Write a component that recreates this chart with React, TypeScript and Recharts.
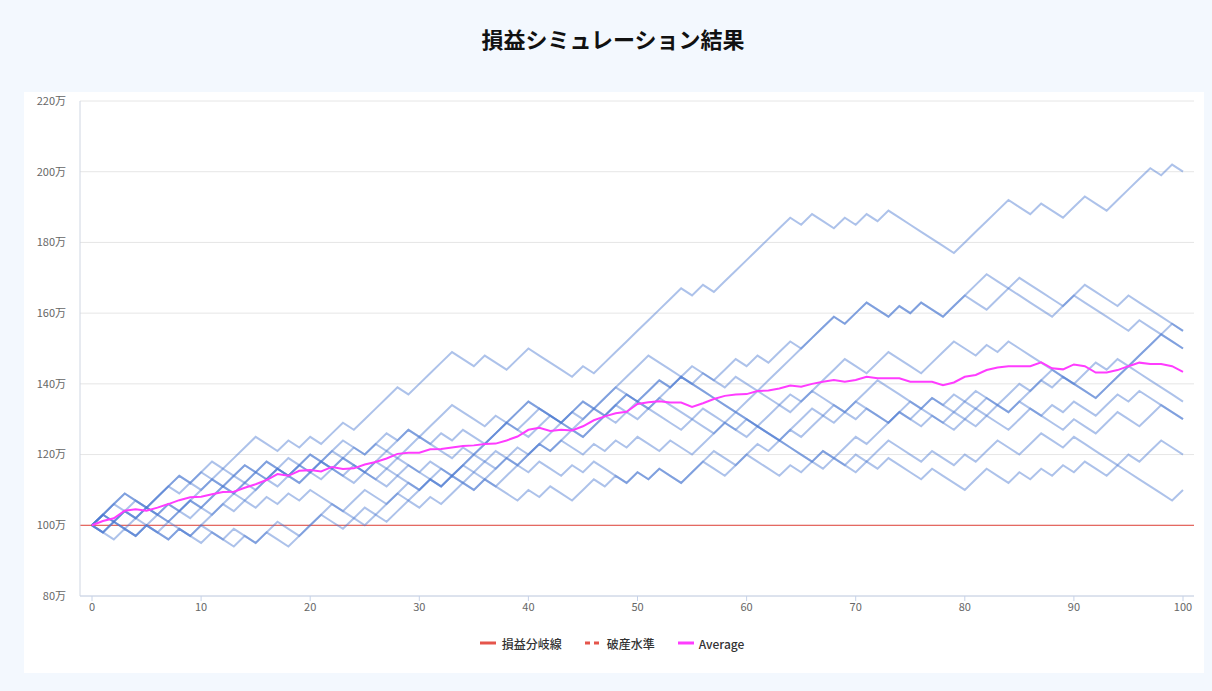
import React from 'react';
import { LineChart, Line, XAxis, YAxis, CartesianGrid, ReferenceLine, Legend } from 'recharts';

// ---- data ----
const TITLE = '損益シミュレーション結果';
const xTicks = [0, 10, 20, 30, 40, 50, 60, 70, 80, 90, 100];
const yTicks = [80, 100, 120, 140, 160, 180, 200, 220];
const breakEven = 100;

const simA = [
  100, 103, 106, 109, 107, 105, 108, 111, 114, 112,
  115, 118, 116, 119, 122, 125, 123, 121, 124, 122,
  125, 123, 126, 129, 127, 130, 133, 136, 139, 137,
  140, 143, 146, 149, 147, 145, 148, 146, 144, 147,
  150, 148, 146, 144, 142, 145, 143, 146, 149, 152,
  155, 158, 161, 164, 167, 165, 168, 166, 169, 172,
  175, 178, 181, 184, 187, 185, 188, 186, 184, 187,
  185, 188, 186, 189, 187, 185, 183, 181, 179, 177,
  180, 183, 186, 189, 192, 190, 188, 191, 189, 187,
  190, 193, 191, 189, 192, 195, 198, 201, 199, 202,
  200,
];
const simB = [
  100, 98, 101, 104, 102, 105, 103, 101, 104, 107,
  105, 108, 111, 109, 112, 115, 113, 116, 114, 117,
  120, 118, 121, 124, 122, 120, 123, 121, 124, 127,
  125, 123, 126, 124, 127, 125, 123, 126, 129, 127,
  130, 133, 131, 129, 132, 135, 133, 136, 139, 137,
  135, 138, 141, 139, 142, 140, 143, 141, 144, 147,
  145, 148, 146, 149, 152, 150, 153, 156, 159, 157,
  160, 163, 161, 159, 162, 160, 163, 161, 159, 162,
  165, 168, 171, 169, 167, 165, 163, 161, 159, 162,
  165, 168, 166, 164, 162, 165, 163, 161, 159, 157,
  155,
];
const simC = [
  100, 103, 101, 99, 102, 105, 103, 106, 104, 102,
  105, 108, 111, 109, 112, 110, 113, 116, 114, 117,
  115, 113, 116, 114, 112, 115, 113, 111, 114, 112,
  110, 113, 111, 114, 117, 120, 123, 126, 129, 132,
  135, 133, 131, 129, 127, 125, 128, 131, 134, 137,
  135, 133, 136, 134, 132, 130, 133, 131, 129, 127,
  125, 128, 126, 124, 127, 130, 133, 131, 129, 132,
  135, 133, 131, 129, 132, 130, 133, 136, 134, 137,
  135, 133, 136, 134, 132, 135, 138, 141, 144, 142,
  140, 138, 136, 139, 142, 145, 148, 151, 154, 157,
  155,
];
const simD = [
  100, 98, 96, 99, 97, 100, 98, 96, 99, 97,
  100, 98, 96, 99, 97, 95, 98, 96, 94, 97,
  100, 103, 106, 104, 107, 110, 108, 106, 109, 112,
  110, 113, 111, 114, 117, 120, 123, 126, 129, 132,
  135, 133, 131, 129, 127, 130, 133, 131, 134, 132,
  130, 133, 131, 129, 127, 130, 128, 126, 129, 132,
  135, 138, 141, 144, 147, 150, 153, 156, 159, 157,
  160, 163, 161, 159, 162, 160, 163, 161, 159, 162,
  165, 163, 161, 164, 167, 170, 168, 166, 164, 162,
  165, 163, 161, 159, 157, 155, 158, 156, 154, 152,
  150,
];
const simE = [
  100, 98, 101, 99, 97, 100, 98, 101, 99, 97,
  100, 103, 106, 104, 107, 105, 108, 106, 109, 107,
  110, 108, 106, 104, 102, 100, 103, 101, 104, 107,
  105, 108, 106, 109, 112, 110, 113, 116, 119, 117,
  120, 123, 126, 129, 132, 130, 133, 136, 139, 142,
  145, 148, 146, 144, 142, 145, 143, 141, 139, 142,
  140, 138, 136, 134, 137, 135, 138, 141, 144, 147,
  145, 143, 146, 149, 147, 145, 143, 146, 149, 152,
  150, 148, 151, 149, 152, 150, 148, 146, 144, 142,
  140, 138, 136, 139, 142, 145, 148, 151, 154, 152,
  150,
];
const simF = [
  100, 103, 106, 104, 107, 105, 108, 111, 109, 112,
  110, 113, 111, 114, 117, 115, 113, 116, 114, 112,
  115, 118, 121, 119, 122, 120, 123, 126, 124, 127,
  125, 128, 131, 134, 132, 130, 128, 131, 129, 127,
  125, 128, 131, 129, 132, 135, 133, 131, 134, 137,
  135, 138, 141, 139, 142, 140, 138, 136, 134, 132,
  130, 128, 126, 124, 122, 120, 118, 116, 119, 122,
  125, 123, 126, 129, 132, 130, 128, 131, 129, 127,
  130, 133, 131, 134, 137, 140, 138, 141, 139, 142,
  140, 143, 146, 144, 147, 145, 143, 141, 139, 137,
  135,
];
const simG = [
  100, 103, 101, 104, 102, 100, 103, 101, 104, 107,
  105, 103, 106, 109, 107, 110, 113, 111, 114, 112,
  115, 118, 116, 114, 117, 115, 113, 116, 119, 117,
  115, 118, 116, 114, 117, 115, 118, 116, 119, 122,
  120, 123, 121, 124, 122, 120, 123, 121, 124, 122,
  125, 123, 121, 124, 122, 120, 123, 126, 129, 127,
  130, 128, 131, 134, 132, 135, 138, 136, 134, 132,
  135, 138, 141, 139, 137, 135, 133, 131, 129, 132,
  130, 128, 131, 129, 127, 130, 133, 131, 134, 132,
  135, 133, 131, 134, 137, 135, 138, 136, 134, 132,
  130,
];
const simH = [
  100, 98, 101, 104, 102, 105, 103, 106, 104, 107,
  110, 113, 111, 114, 117, 115, 118, 116, 119, 117,
  120, 118, 116, 119, 117, 115, 118, 116, 114, 117,
  115, 113, 116, 114, 112, 115, 113, 111, 114, 117,
  115, 118, 116, 114, 117, 115, 118, 116, 114, 112,
  115, 113, 116, 114, 112, 115, 118, 121, 119, 117,
  120, 123, 121, 124, 127, 125, 128, 131, 134, 132,
  130, 133, 131, 129, 132, 135, 133, 136, 134, 132,
  135, 138, 136, 134, 132, 135, 133, 131, 129, 127,
  130, 128, 126, 129, 132, 130, 128, 131, 134, 132,
  130,
];
const simI = [
  100, 103, 101, 99, 97, 100, 98, 96, 99, 97,
  95, 98, 96, 94, 97, 95, 98, 101, 99, 97,
  100, 103, 101, 99, 102, 105, 103, 106, 109, 107,
  110, 113, 111, 114, 112, 110, 113, 111, 109, 107,
  110, 108, 111, 109, 107, 110, 113, 111, 114, 112,
  115, 113, 116, 114, 112, 115, 118, 116, 114, 117,
  120, 118, 116, 114, 117, 115, 118, 121, 119, 117,
  120, 118, 121, 124, 122, 120, 118, 121, 119, 117,
  120, 118, 121, 124, 122, 120, 123, 126, 124, 122,
  125, 123, 121, 119, 117, 120, 118, 121, 124, 122,
  120,
];
const simJ = [
  100, 103, 106, 109, 107, 105, 108, 111, 114, 112,
  115, 113, 116, 114, 112, 115, 118, 116, 114, 117,
  115, 118, 116, 119, 117, 115, 118, 121, 119, 122,
  125, 123, 121, 119, 122, 120, 118, 121, 119, 117,
  120, 123, 121, 124, 127, 125, 128, 131, 129, 132,
  135, 133, 136, 139, 142, 140, 138, 136, 134, 132,
  130, 128, 126, 124, 122, 120, 118, 121, 119, 117,
  115, 118, 116, 119, 117, 115, 113, 116, 114, 112,
  110, 113, 116, 114, 112, 115, 113, 116, 114, 117,
  115, 118, 116, 114, 117, 115, 113, 111, 109, 107,
  110,
];
const average = [
  100, 101.2, 102, 104.1, 104.5, 104.1, 105, 106, 107.1, 107.9,
  108.1, 108.8, 109.4, 109.5, 110.6, 111.6, 112.8, 114.5, 114, 115.4,
  115.6, 115.2, 116.5, 115.9, 116.1, 117.2, 117.9, 118.9, 120.2, 120.5,
  120.5, 121.5, 121.6, 122, 122.4, 122.6, 123, 123.1, 124, 125.1,
  127, 127.6, 126.7, 127, 126.8, 128, 129.7, 130.8, 131.7, 132.1,
  134.3, 134.8, 135.1, 134.7, 134.7, 133.5, 134.5, 135.7, 136.6, 137,
  137.1, 138, 138.1, 138.7, 139.5, 139.2, 140, 140.6, 141.1, 140.6,
  141.1, 142, 141.6, 141.6, 141.6, 140.6, 140.6, 140.6, 139.6, 140.4,
  142, 142.5, 143.9, 144.6, 145, 145, 145, 146.1, 144.4, 144.1,
  145.5, 145, 143.2, 143.2, 143.9, 145, 146, 145.6, 145.6, 145,
  143.4,
];

const simulations = [simA, simB, simC, simD, simE, simF, simG, simH, simI, simJ];
const simKeys = ['s1', 's2', 's3', 's4', 's5', 's6', 's7', 's8', 's9', 's10'];

const data = average.map((avg, i) => {
  const row: Record<string, number> = { x: i, avg };
  simulations.forEach((s, k) => {
    row[simKeys[k]] = s[i];
  });
  return row;
});

const FONT = '"Noto Sans CJK JP", "Noto Sans", sans-serif';

const LegendContent = () => (
  <div
    style={{
      height: 20,
      display: 'flex',
      justifyContent: 'center',
      alignItems: 'center',
      fontFamily: FONT,
      fontSize: 12,
      fontWeight: 500,
      color: '#333',
      paddingLeft: 6,
    }}
  >
    <span style={{ display: 'flex', alignItems: 'center', marginRight: 23 }}>
      <svg width={16} height={6} style={{ marginRight: 6 }}>
        <line x1={0} y1={3} x2={16} y2={3} stroke="#e5554b" strokeWidth={3} />
      </svg>
      損益分岐線
    </span>
    <span style={{ display: 'flex', alignItems: 'center', marginRight: 23 }}>
      <svg width={16} height={6} style={{ marginRight: 6 }}>
        <line x1={0} y1={3} x2={16} y2={3} stroke="#e5554b" strokeWidth={3} strokeDasharray="5 4" />
      </svg>
      破産水準
    </span>
    <span style={{ display: 'flex', alignItems: 'center' }}>
      <svg width={16} height={6} style={{ marginRight: 5 }}>
        <line x1={0} y1={3} x2={16} y2={3} stroke="#ff3cff" strokeWidth={3} />
      </svg>
      Average
    </span>
  </div>
);

export default function App() {
  return (
    <div
      style={{
        position: 'fixed',
        left: 0,
        top: 0,
        width: 1212,
        height: 691,
        background: '#f3f8fe',
        fontFamily: FONT,
      }}
    >
      <div
        style={{
          position: 'absolute',
          top: 24,
          left: 0,
          width: 1226,
          textAlign: 'center',
          fontSize: 22,
          fontWeight: 700,
          color: '#111',
          lineHeight: '28px',
        }}
      >
        {TITLE}
      </div>
      <div
        style={{
          position: 'absolute',
          left: 24,
          top: 92,
          width: 1180,
          height: 581,
          background: '#ffffff',
        }}
      >
        <LineChart
          width={1180}
          height={581}
          data={data}
          margin={{ top: 9, right: 10, left: 0, bottom: 20 }}
        >
          <CartesianGrid vertical={false} stroke="#e6e6e6" />
          <XAxis
            dataKey="x"
            type="number"
            domain={[0, 100]}
            ticks={xTicks}
            padding={{ left: 12, right: 11 }}
            height={37}
            tickSize={5}
            tick={{ fontSize: 11, fill: '#666', fontFamily: FONT }}
            tickLine={{ stroke: '#c6d2e8' }}
            axisLine={{ stroke: '#c6d2e8' }}
          />
          <YAxis
            domain={[80, 220]}
            ticks={yTicks}
            width={56}
            tickLine={false}
            tickMargin={8}
            axisLine={{ stroke: '#cfd6e2' }}
            tick={{ fontSize: 11, fill: '#666', fontFamily: FONT }}
            tickFormatter={(v: number) => `${v}万`}
          />
          <YAxis
            yAxisId="right"
            orientation="right"
            domain={[80, 220]}
            width={0}
            tick={false}
            tickLine={false}
            axisLine={{ stroke: '#cccccc' }}
          />
          <ReferenceLine y={breakEven} stroke="#e3463c" strokeWidth={1} />
          {simKeys.map((k) => (
            <Line
              key={k}
              type="linear"
              dataKey={k}
              stroke="#4a78d0"
              strokeOpacity={0.45}
              strokeWidth={2}
              dot={false}
              activeDot={false}
              legendType="none"
              isAnimationActive={false}
            />
          ))}
          <Line
            type="linear"
            dataKey="avg"
            name="Average"
            stroke="#ff3cff"
            strokeWidth={2}
            dot={false}
            activeDot={false}
            isAnimationActive={false}
          />
          <Legend verticalAlign="bottom" content={<LegendContent />} />
        </LineChart>
      </div>
    </div>
  );
}
